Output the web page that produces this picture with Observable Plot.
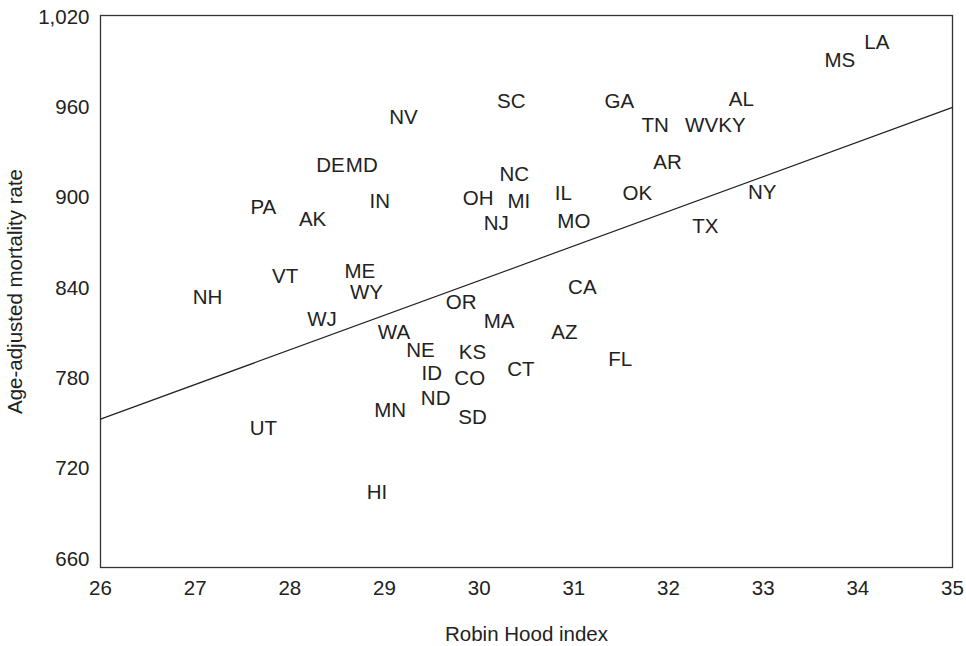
<!DOCTYPE html>
<html>
<head>
<meta charset="utf-8">
<script src="https://cdn.jsdelivr.net/npm/d3@7"></script>
<script src="https://cdn.jsdelivr.net/npm/@observablehq/plot@0.6"></script>
<style>
  html, body { margin: 0; padding: 0; background: #fff; }
</style>
</head>
<body>
<div id="chart"></div>
<script>
// State abbreviations, income inequality (Robin Hood index) and age-adjusted mortality
const states = ["PA","AK","VT","NH","NV","SC","GA","DE","MD","NC","IN","OH","MI","IL","NJ","MO",
  "ME","WY","CA","OR","WJ","MA","WA","AZ","NE","KS","FL","CT","ID","CO","ND","MN","SD","HI","UT",
  "LA","MS","AL","TN","WV","KY","AR","OK","NY","TX"];
const robinHood = [27.72, 28.24, 27.95, 27.13, 29.20, 30.34, 31.48, 28.43, 28.76, 30.37, 28.95, 29.99,
  30.42, 30.89, 30.18, 31.00, 28.74, 28.81, 31.09, 29.81, 28.34, 30.21, 29.10, 30.90, 29.38, 29.93,
  31.49, 30.44, 29.50, 29.90, 29.54, 29.06, 29.93, 28.92, 27.72, 34.20, 33.81, 32.77, 31.86, 32.35,
  32.67, 31.99, 31.67, 32.99, 32.39];
const mortality = [893.5, 885.8, 847.9, 833.7, 953.1, 964.2, 963.7, 921.7, 921.7, 915.5, 897.3, 899.5,
  897.3, 902.8, 882.9, 884.0, 851.4, 836.8, 840.4, 830.4, 819.1, 818.2, 810.5, 810.9, 798.3, 797.6,
  792.5, 785.9, 783.2, 780.3, 767.0, 758.8, 754.0, 704.6, 746.7, 1002.9, 991.0, 965.5, 947.8, 947.8,
  947.8, 923.2, 902.8, 903.3, 880.7];

// Fitted regression line, given by its ends at the axis limits
const fitX = [26, 35];
const fitY = [753, 960];

// Axis ticks
const xTicks = [26, 27, 28, 29, 30, 31, 32, 33, 34, 35];
const yTicks = [660, 720, 780, 840, 900, 960, 1020];

const points = states.map((s, i) => ({state: s, x: robinHood[i], y: mortality[i]}));
const fit = fitX.map((x, i) => ({x, y: fitY[i]}));

const ink = "#222";

const chart = Plot.plot({
  width: 966,
  height: 646,
  marginLeft: 100,
  marginRight: 14,
  marginTop: 15,
  marginBottom: 79,
  style: {
    fontFamily: "'Liberation Sans', Arial, Helvetica, sans-serif",
    fontSize: "20.5px",
    color: ink,
    background: "#fff"
  },
  x: {domain: [26, 35], labelArrow: "none"},
  y: {domain: [654.5, 1021], labelArrow: "none"},
  marks: [
    Plot.axisX({
      ticks: xTicks, tickSize: 0, tickPadding: 13,
      label: "Robin Hood index", labelArrow: "none", labelAnchor: "center", labelOffset: 73
    }),
    Plot.axisY({
      ticks: yTicks, tickSize: 0, tickPadding: 11,
      label: "Age-adjusted mortality rate", labelArrow: "none", labelAnchor: "center", labelOffset: 93
    }),
    Plot.frame({stroke: "#333", strokeWidth: 1.3}),
    Plot.line(fit, {x: "x", y: "y", stroke: ink, strokeWidth: 1.2}),
    Plot.text(points, {x: "x", y: "y", text: "state", fill: ink})
  ]
});

document.getElementById("chart").append(chart);
</script>
</body>
</html>
